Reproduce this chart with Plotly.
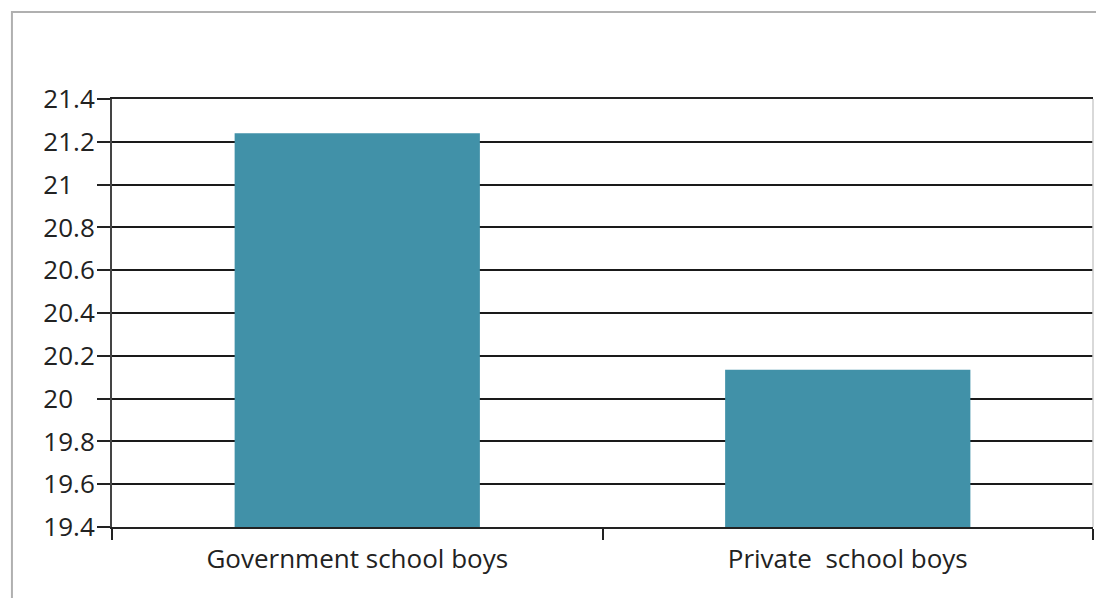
import plotly.graph_objects as go

categories = ["Government school boys", "Private\u00a0 school boys"]
values = [21.24, 20.135]
tick_vals = [19.4, 19.6, 19.8, 20.0, 20.2, 20.4, 20.6, 20.8, 21.0, 21.2, 21.4]
tick_text = ["19.4", "19.6", "19.8", "20", "20.2", "20.4", "20.6", "20.8", "21", "21.2", "21.4"]

# left-align tick labels like the original by padding short labels
pad = "\u2008\u2007"
tick_text_padded = [t if "." in t else t + pad for t in tick_text]

fig = go.Figure(go.Bar(
    x=categories, y=values,
    marker=dict(color="#4191a8", line=dict(width=0)),
    width=0.5,
))

fig.update_layout(
    width=1096, height=590,
    margin=dict(l=104, r=11, t=91, b=71),
    paper_bgcolor="white", plot_bgcolor="white",
    font=dict(family="Open Sans", color="#222"),
    showlegend=False,
    bargap=0.5,
    xaxis=dict(
        showline=True, linecolor="#222", linewidth=2, mirror=True,
        ticks="outside", tickson="boundaries", ticklen=11, tickwidth=2, tickcolor="#222",
        tickfont=dict(size=26, color="#222"),
        ticklabelstandoff=8,
        showgrid=False,
    ),
    yaxis=dict(
        range=[19.4, 21.4],
        tickvals=tick_vals, ticktext=tick_text_padded,
        showline=True, linecolor="#444", linewidth=2,
        ticks="outside", ticklen=13, tickwidth=2, tickcolor="#222",
        tickfont=dict(size=26, color="#222"),
        ticklabelstandoff=-3,
        showgrid=True, gridcolor="#1a1a1a", gridwidth=2,
        zeroline=False,
    ),
    shapes=[
        dict(type="rect", xref="paper", yref="paper",
             x0=-0.102, x1=1.2, y0=-0.3, y1=1.203,
             line=dict(color="#b0b0b0", width=2), layer="below"),
        dict(type="line", xref="paper", yref="paper",
             x0=1, x1=1, y0=0, y1=1,
             line=dict(color="#cccccc", width=1.5)),
    ],
)

fig.write_html("out.html")
